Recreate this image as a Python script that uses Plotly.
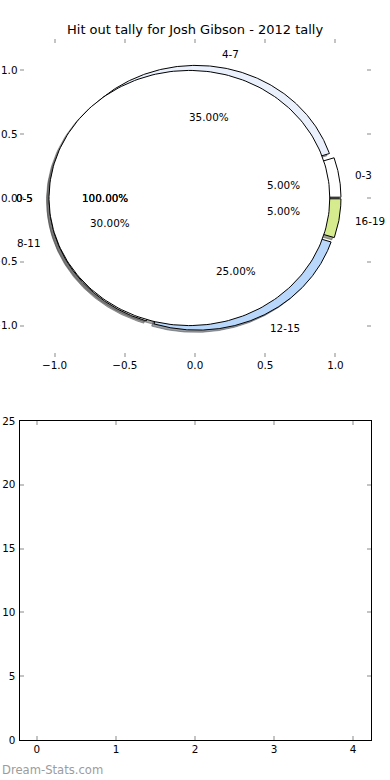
import numpy as np
import plotly.graph_objects as go

# ---- data ----
outer_labels = ["0-3", "4-7", "8-11", "12-15", "16-19"]
outer_values = [1, 7, 6, 5, 1]
outer_colors = ["#ffffff", "#eaf1fd", "#ffffff", "#b9d7fa", "#d5eb8e"]

inner_labels = ["0-5"]
inner_values = [20]
inner_colors = ["#ffffff"]

title_text = "Hit out tally for Josh Gibson - 2012 tally"
pie_ticks = [-1.0, -0.5, 0.0, 0.5, 1.0]
pie_tick_text = ["\u22121.0", "\u22120.5", "0.0", "0.5", "1.0"]
bar_yticks = [0, 5, 10, 15, 20, 25]
bar_xticks = [0, 1, 2, 3, 4]

EXPLODE = 0.04
RADIUS = 1.0
SHADOW = -0.0175
FONT = "DejaVu Sans"


def hex_rgb(h):
    h = h.lstrip("#")
    return tuple(int(h[i:i + 2], 16) for i in (0, 2, 4))


def wedge_xy(cx, cy, t1, t2, r):
    t = np.radians(np.linspace(t1, t2, 240))
    xs = cx + r * np.cos(t)
    ys = cy + r * np.sin(t)
    if abs((t2 - t1) - 360) < 1e-9:
        return xs, ys
    return np.concatenate([[cx], xs, [cx]]), np.concatenate([[cy], ys, [cy]])


def build_pie(values, labels, colors):
    total = float(sum(values))
    out = []
    t1 = 0.0
    for v, lab, col in zip(values, labels, colors):
        frac = v / total
        t2 = t1 + 360.0 * frac
        tm = np.radians((t1 + t2) / 2)
        cx = EXPLODE * np.cos(tm)
        cy = EXPLODE * np.sin(tm)
        out.append(dict(t1=t1, t2=t2, tm=tm, cx=cx, cy=cy, lab=lab, col=col, pct=100 * frac))
        t1 = t2
    return out


outer = build_pie(outer_values, outer_labels, outer_colors)
inner = build_pie(inner_values, inner_labels, inner_colors)

fig = go.Figure()

# shadows (drawn below all wedges)
for w in outer + inner:
    r, g, b = hex_rgb(w["col"])
    sc = "rgba(%d,%d,%d,0.5)" % (int(0.3 * r), int(0.3 * g), int(0.3 * b))
    xs, ys = wedge_xy(w["cx"] + SHADOW, w["cy"] + SHADOW, w["t1"], w["t2"], RADIUS)
    fig.add_trace(go.Scatter(x=xs, y=ys, mode="lines", fill="toself", fillcolor=sc,
                             line=dict(color=sc, width=1), hoverinfo="skip",
                             showlegend=False, xaxis="x", yaxis="y"))

# wedges: outer first, then inner on top
for w in outer + inner:
    xs, ys = wedge_xy(w["cx"], w["cy"], w["t1"], w["t2"], RADIUS)
    fig.add_trace(go.Scatter(x=xs, y=ys, mode="lines", fill="toself", fillcolor=w["col"],
                             line=dict(color="black", width=1), hoverinfo="skip",
                             showlegend=False, xaxis="x", yaxis="y"))

# empty lower axes (no data plotted)
fig.add_trace(go.Scatter(x=[], y=[], mode="markers", hoverinfo="skip", showlegend=False,
                         xaxis="x2", yaxis="y2"))

annotations = []


def add_text(x, y, text, xanchor, size=10.4, xref="x", yref="y", color="black", yanchor="middle"):
    annotations.append(dict(x=x, y=y, xref=xref, yref=yref, text=text, showarrow=False,
                            xanchor=xanchor, yanchor=yanchor,
                            font=dict(family=FONT, size=size, color=color)))


for group, reps in ((outer, 1), (inner, 2)):
    for w in group:
        for _ in range(reps):
            lx = w["cx"] + 1.1 * RADIUS * np.cos(w["tm"])
            ly = w["cy"] + 1.1 * RADIUS * np.sin(w["tm"])
            add_text(lx, ly, w["lab"], "left" if lx > 0 else "right")
            px = w["cx"] + 0.6 * RADIUS * np.cos(w["tm"])
            py = w["cy"] + 0.6 * RADIUS * np.sin(w["tm"])
            add_text(px, py, "%.2f%%" % w["pct"], "center")

# title and watermark
add_text(0.5, 1 - 29.5 / 780, title_text, "center", size=13, xref="paper", yref="paper")
add_text(0.0, 1 - 770 / 780, "Dream-Stats.com", "left", size=11.6, xref="paper", yref="paper",
         color="#9c9c9c")

tickfont = dict(family=FONT, size=10.4, color="black")
tick_common = dict(ticks="inside", ticklen=4, tickwidth=1.5, tickcolor="#c4c4c4",
                   showgrid=False, zeroline=False, tickfont=tickfont, fixedrange=True,
                   automargin=False)

fig.update_layout(
    width=390, height=780, autosize=False,
    margin=dict(l=0, r=0, t=0, b=0, autoexpand=False),
    paper_bgcolor="white", plot_bgcolor="white",
    showlegend=False,
    annotations=annotations,
    xaxis=dict(domain=[0.05, 0.95], range=[-1.25, 1.25], anchor="y", showline=False,
               mirror="ticks", tickvals=pie_ticks, ticktext=pie_tick_text, **tick_common),
    yaxis=dict(domain=[0.5417, 0.9506], range=[-1.25, 1.25], anchor="x", showline=False,
               mirror="ticks", tickvals=pie_ticks, ticktext=pie_tick_text,
               ticklabelstandoff=1, **tick_common),
    xaxis2=dict(domain=[0.05, 0.95], range=[-0.22, 4.22], anchor="y2", showline=True,
                linecolor="black", linewidth=1, mirror="ticks", tickvals=bar_xticks,
                **tick_common),
    yaxis2=dict(domain=[0.0513, 0.4603], range=[0, 25], anchor="x2", showline=True,
                linecolor="black", linewidth=1, mirror="ticks", tickvals=bar_yticks,
                ticklabelstandoff=1, **tick_common),
)

fig.write_html("out.html", config={"displayModeBar": False, "responsive": False})
